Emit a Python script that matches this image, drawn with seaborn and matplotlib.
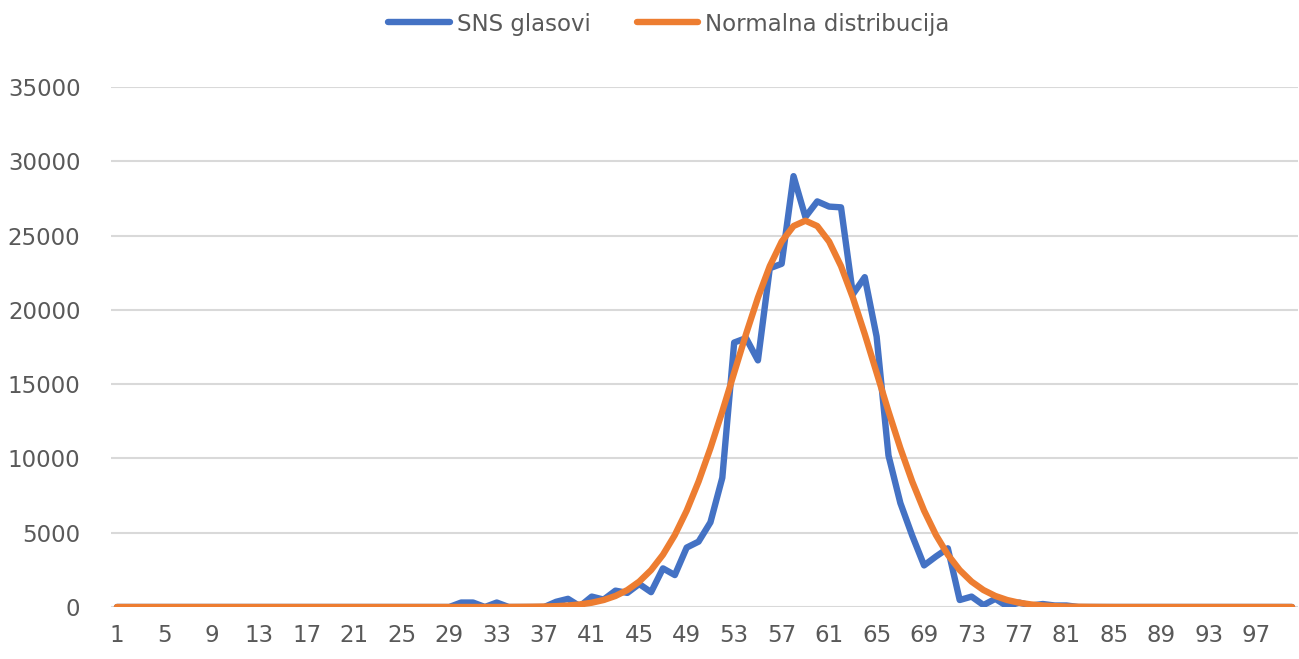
import numpy as np
import pandas as pd
import matplotlib
matplotlib.use("Agg")
import matplotlib.pyplot as plt
import seaborn as sns
from matplotlib.lines import Line2D

# Categories 1..100
categories = list(range(1, 101))

# SNS glasovi
sns_glasovi = (
    [0] * 29 +                                   # 1-29
    [300, 300, 0, 300, 0, 0, 0, 0,               # 30-37
     350, 550, 50, 700, 500, 1100, 950, 1550,    # 38-45
     1000, 2600, 2150, 4000, 4400, 5700, 8700,   # 46-52
     17800, 18100, 16600, 22800, 23100, 29000,   # 53-58
     26250, 27300, 26950, 26900, 21050, 22200,   # 59-64
     18200, 10200, 7000, 4800, 2800, 3400, 3950, # 65-71
     470, 700, 130, 550, 50, 300, 100, 200,      # 72-79
     100, 100] +                                 # 80-81
    [0] * 19                                     # 82-100
)

# Normalna distribucija
normalna = (
    [0] * 33 +                                   # 1-33
    [4, 9, 17, 31, 57, 100, 173, 289, 470, 743,  # 34-43
     1142, 1709, 2486, 3519, 4845, 6485, 8441,   # 44-50
     10689, 13164, 15770, 18372, 20819, 22945,   # 51-56
     24594, 25641, 26000, 25641, 24594, 22945,   # 57-62
     20819, 18372, 15770, 13164, 10689, 8441,    # 63-68
     6485, 4845, 3519, 2486, 1709, 1142, 743,    # 69-75
     470, 289, 173, 100, 57, 31, 17, 9, 4] +     # 76-84
    [0] * 16                                     # 85-100
)

series_names = ["SNS glasovi", "Normalna distribucija"]
y_ticks = [0, 5000, 10000, 15000, 20000, 25000, 30000, 35000]
x_tick_labels = list(range(1, 101, 4))

df = pd.DataFrame({
    "kategorija": categories * 2,
    "vrednost": sns_glasovi + normalna,
    "serija": [series_names[0]] * len(categories) + [series_names[1]] * len(categories),
})

sns.set_theme(style="white")
plt.rcParams['font.family'] = ['DejaVu Sans']

fig = plt.figure(figsize=(12.99, 6.59), dpi=100)
ax = fig.add_axes([111 / 1299, 1 - 607 / 659, 1187 / 1299, 520 / 659])

palette = {"SNS glasovi": "#4472C4", "Normalna distribucija": "#ED7D31"}
sns.lineplot(data=df, x="kategorija", y="vrednost", hue="serija",
             palette=palette, linewidth=4.6, ax=ax, legend=False,
             solid_joinstyle="round", solid_capstyle="round")

ax.set_xlim(0.5, 100.5)
ax.set_ylim(0, 35000)
ax.set_yticks(y_ticks)
ax.set_yticklabels([str(v) for v in y_ticks])
ax.set_xticks(x_tick_labels)
ax.set_xticklabels([str(v) for v in x_tick_labels])
ax.yaxis.grid(True, color="#d9d9d9", linewidth=1.5)
ax.set_axisbelow(True)
for s in ax.spines.values():
    s.set_visible(False)
ax.tick_params(axis="both", length=0, labelsize=16.5, labelcolor="#595959")
ax.tick_params(axis="y", pad=22)
ax.tick_params(axis="x", pad=12)
ax.set_xlabel("")
ax.set_ylabel("")

handles = [Line2D([0], [0], color=palette[n], linewidth=4.6, solid_capstyle="round")
           for n in series_names]
leg = fig.legend(handles, series_names, loc="center",
                 bbox_to_anchor=(669 / 1299, 1 - 24 / 659), ncol=2, frameon=False,
                 fontsize=16.5, handlelength=2.7, handletextpad=0.3, columnspacing=2.0)
for t in leg.get_texts():
    t.set_color("#595959")

fig.savefig("out.png", dpi=100)
